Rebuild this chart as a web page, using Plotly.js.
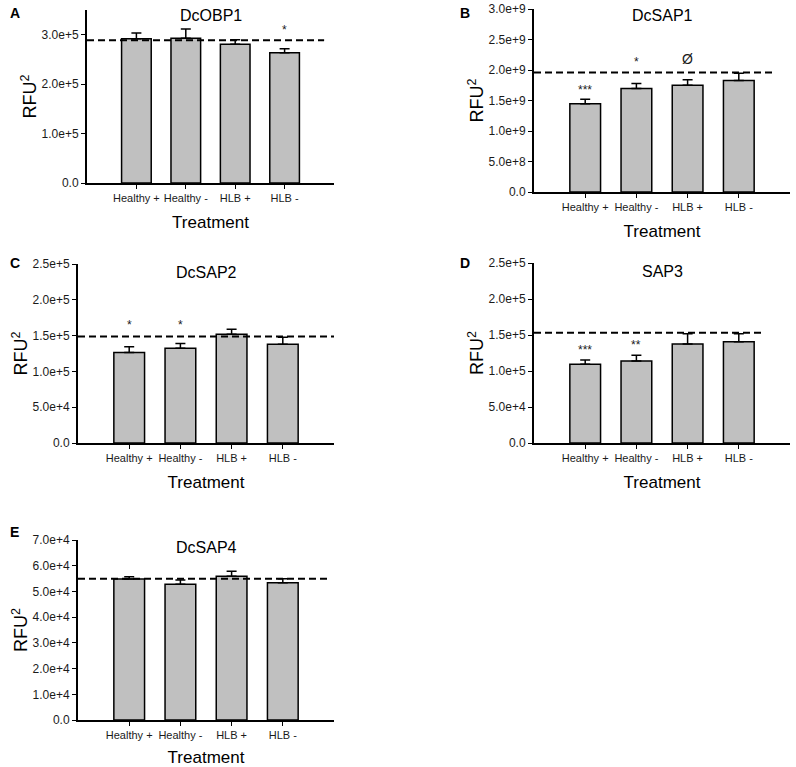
<!DOCTYPE html>
<html>
<head>
<meta charset="utf-8">
<script src="https://cdn.plot.ly/plotly-3.0.1.min.js"></script>
<style>
  html, body { margin: 0; padding: 0; background: #fff; }
  #chart { width: 796px; height: 767px; }
</style>
</head>
<body>
<div id="chart"></div>
<script>
// treatments shared by every panel
const treatments = ['Healthy +', 'Healthy -', 'HLB +', 'HLB -'];

// A - DcOBP1
const obp1Mean = [2.92e5, 2.93e5, 2.81e5, 2.64e5];
const obp1Err = [0.12e5, 0.19e5, 0.09e5, 0.08e5];
const obp1Ref = 2.89e5;
const obp1Sig = ['', '', '', '*'];
const obp1SigY = [null, null, null, 3.16e5];
const obp1Ticks = [0, 1e5, 2e5, 3e5];
const obp1TickText = ['0.0', '1.0e+5', '2.0e+5', '3.0e+5'];

// B - DcSAP1
const sap1Mean = [1.45e9, 1.70e9, 1.75e9, 1.83e9];
const sap1Err = [0.07e9, 0.08e9, 0.09e9, 0.12e9];
const sap1Ref = 1.96e9;
const sap1Sig = ['***', '*', 'Ø', ''];
const sap1SigY = [1.72e9, 2.18e9, 2.18e9, null];
const sap1Ticks = [0, 5e8, 1e9, 1.5e9, 2e9, 2.5e9, 3e9];
const sap1TickText = ['0.0', '5.0e+8', '1.0e+9', '1.5e+9', '2.0e+9', '2.5e+9', '3.0e+9'];

// C - DcSAP2
const sap2Mean = [1.266e5, 1.326e5, 1.52e5, 1.38e5];
const sap2Err = [0.08e5, 0.065e5, 0.07e5, 0.10e5];
const sap2Ref = 1.49e5;
const sap2Sig = ['*', '*', '', ''];
const sap2SigY = [1.69e5, 1.69e5, null, null];

// D - SAP3
const sap3Mean = [1.095e5, 1.14e5, 1.378e5, 1.406e5];
const sap3Err = [0.06e5, 0.08e5, 0.14e5, 0.112e5];
const sap3Ref = 1.532e5;
const sap3Sig = ['***', '**', '', ''];
const sap3SigY = [1.33e5, 1.40e5, null, null];

const sap23Ticks = [0, 5e4, 1e5, 1.5e5, 2e5, 2.5e5];
const sap23TickText = ['0.0', '5.0e+4', '1.0e+5', '1.5e+5', '2.0e+5', '2.5e+5'];

// E - DcSAP4
const sap4Mean = [5.49e4, 5.28e4, 5.60e4, 5.34e4];
const sap4Err = [0.09e4, 0.17e4, 0.19e4, 0.16e4];
const sap4Ref = 5.50e4;
const sap4Sig = ['', '', '', ''];
const sap4SigY = [null, null, null, null];
const sap4Ticks = [0, 1e4, 2e4, 3e4, 4e4, 5e4, 6e4, 7e4];
const sap4TickText = ['0.0', '1.0e+4', '2.0e+4', '3.0e+4', '4.0e+4', '5.0e+4', '6.0e+4', '7.0e+4'];

const W = 796, H = 767;
const FONT = 'Arial, "Liberation Sans", sans-serif';
const INK = '#1a1a1a';

// box = [left, top, right, bottom] of the plot area in pixels
const panels = [
  { letter: 'A', name: 'DcOBP1', mean: obp1Mean, err: obp1Err, ref: obp1Ref, sig: obp1Sig, sigY: obp1SigY,
    ticks: obp1Ticks, tickText: obp1TickText, yMax: 3.5e5,
    box: [87, 10, 334, 183], titleY: 15, letterXY: [15, 13], refEnd: 0.96 },
  { letter: 'B', name: 'DcSAP1', mean: sap1Mean, err: sap1Err, ref: sap1Ref, sig: sap1Sig, sigY: sap1SigY,
    ticks: sap1Ticks, tickText: sap1TickText, yMax: 3.0e9,
    box: [534, 9, 790, 192], titleY: 15, letterXY: [465, 13], refEnd: 0.93 },
  { letter: 'C', name: 'DcSAP2', mean: sap2Mean, err: sap2Err, ref: sap2Ref, sig: sap2Sig, sigY: sap2SigY,
    ticks: sap23Ticks, tickText: sap23TickText, yMax: 2.5e5,
    box: [78, 264, 334, 443], titleY: 272, letterXY: [15, 263], refEnd: 1.0 },
  { letter: 'D', name: 'SAP3', mean: sap3Mean, err: sap3Err, ref: sap3Ref, sig: sap3Sig, sigY: sap3SigY,
    ticks: sap23Ticks, tickText: sap23TickText, yMax: 2.5e5,
    box: [534, 263, 790, 443], titleY: 271, letterXY: [465, 263], refEnd: 0.89 },
  { letter: 'E', name: 'DcSAP4', mean: sap4Mean, err: sap4Err, ref: sap4Ref, sig: sap4Sig, sigY: sap4SigY,
    ticks: sap4Ticks, tickText: sap4TickText, yMax: 7.0e4,
    box: [78, 540, 334, 720], titleY: 547, letterXY: [15, 532], refEnd: 0.98 },
];

const traces = [];
const annotations = [];
const shapes = [];
const layout = {
  width: W,
  height: H,
  margin: { t: 0, r: 0, b: 0, l: 0 },
  paper_bgcolor: '#fff',
  plot_bgcolor: '#fff',
  showlegend: false,
  font: { family: FONT, color: INK, size: 11 },
};

panels.forEach((p, i) => {
  const n = i === 0 ? '' : String(i + 1);
  const [x0, y0, x1, y1] = p.box;

  traces.push({
    type: 'bar',
    x: treatments,
    y: p.mean,
    xaxis: 'x' + n,
    yaxis: 'y' + n,
    width: 0.6,
    marker: { color: '#c0c0c0', line: { color: '#000', width: 1.5 } },
    error_y: {
      type: 'data',
      symmetric: false,
      array: p.err,
      arrayminus: p.err.map(() => 0),
      color: '#000',
      thickness: 1.5,
      width: 5,
    },
    hoverinfo: 'x+y',
  });

  layout['xaxis' + n] = {
    domain: [x0 / W, x1 / W],
    anchor: 'y' + n,
    type: 'category',
    range: [-1, 4],
    showline: true,
    linecolor: '#000',
    linewidth: 2,
    ticks: 'outside',
    ticklen: 4,
    tickwidth: 1,
    tickcolor: '#000',
    showgrid: false,
    zeroline: false,
    tickfont: { family: FONT, size: 11, color: INK },
    title: { text: 'Treatment', font: { family: FONT, size: 17, color: '#000' }, standoff: 13 },
    fixedrange: true,
  };

  layout['yaxis' + n] = {
    domain: [1 - y1 / H, 1 - y0 / H],
    anchor: 'x' + n,
    range: [0, p.yMax * 1.001],
    tickvals: p.ticks,
    ticktext: p.tickText,
    showline: true,
    linecolor: '#000',
    linewidth: 2,
    ticks: 'outside',
    ticklen: 4,
    tickwidth: 1,
    tickcolor: '#000',
    showgrid: false,
    zeroline: false,
    tickfont: { family: FONT, size: 12, color: INK },
    title: { text: 'RFU<sup>2</sup>', font: { family: FONT, size: 18, color: '#000' }, standoff: 0 },
    fixedrange: true,
  };

  // dashed reference line
  shapes.push({
    type: 'line',
    xref: 'x' + n + ' domain',
    yref: 'y' + n,
    x0: 0,
    x1: p.refEnd,
    y0: p.ref,
    y1: p.ref,
    line: { color: '#000', width: 2, dash: '7px,4px' },
  });

  // panel title
  annotations.push({
    xref: 'paper', yref: 'paper',
    x: (x0 + x1) / 2 / W, y: 1 - p.titleY / H,
    text: p.name, showarrow: false,
    xanchor: 'center', yanchor: 'middle',
    font: { family: FONT, size: 16, color: '#000' },
  });

  // panel letter
  annotations.push({
    xref: 'paper', yref: 'paper',
    x: p.letterXY[0] / W, y: 1 - p.letterXY[1] / H,
    text: '<b>' + p.letter + '</b>', showarrow: false,
    xanchor: 'center', yanchor: 'middle',
    font: { family: FONT, size: 14, color: '#000' },
  });

  // significance marks
  p.sig.forEach((s, k) => {
    if (!s) return;
    annotations.push({
      xref: 'x' + n, yref: 'y' + n,
      x: k, y: p.sigY[k],
      text: s, showarrow: false,
      xanchor: 'center', yanchor: 'middle',
      yshift: s === 'Ø' ? 0 : -3,
      font: { family: FONT, size: s === 'Ø' ? 14 : 12, color: INK },
    });
  });
});

layout.annotations = annotations;
layout.shapes = shapes;

Plotly.newPlot('chart', traces, layout, { displayModeBar: false, staticPlot: true });
</script>
</body>
</html>
